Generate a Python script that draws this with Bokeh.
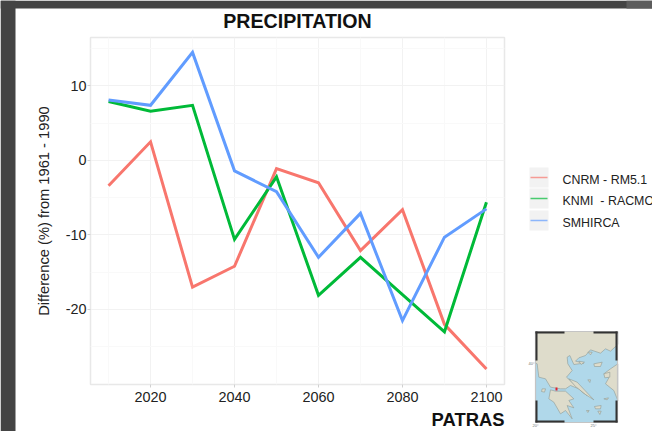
from bokeh.plotting import figure
from bokeh.models import Range1d, FixedTicker, Title
from bokeh.core.properties import value
from bokeh.embed import file_html
from bokeh.resources import INLINE

years = [2010, 2020, 2030, 2040, 2050, 2060, 2070, 2080, 2090, 2100]
cnrm = [-3.4, 2.5, -17.0, -14.2, -1.1, -3.0, -12.1, -6.6, -22.0, -28.0]
knmi = [7.9, 6.6, 7.4, -10.6, -2.2, -18.1, -13.0, -18.0, -23.0, -5.6]
smhi = [8.1, 7.4, 14.5, -1.4, -4.2, -13.0, -7.1, -21.5, -10.3, -6.5]
names = ["CNRM - RM5.1", "KNMI\u00a0 - RACMO", "SMHIRCA"]
colors = ["#F8766D", "#00BA38", "#619CFF"]
x_ticks = [2020, 2040, 2060, 2080, 2100]
x_minor = [2010, 2030, 2050, 2070, 2090]
y_ticks = [-20, -10, 0, 10]
y_labels = {-20: "-20", -10: "-10", 0: "0", 10: "10"}
y_minor = [-25, -15, -5, 5, 15]

W, H = 652, 431
p = figure(width=W, height=H, output_backend="svg", toolbar_location=None,
           x_range=Range1d(2005.7, 2104.3), y_range=Range1d(-30.07, 16.5),
           min_border_left=90, min_border_right=148, min_border_top=37, min_border_bottom=47,
           margin=(0, 0, 0, 0), background_fill_color="white", border_fill_color="white")
p.title = Title(text="PRECIPITATION", align="center", text_font="Liberation Sans", text_font_size="19.6px",
                text_font_style="bold", text_color="#111111", standoff=12)
p.outline_line_color = "#e8e8e8"
p.outline_line_width = 1.5

p.xaxis.ticker = FixedTicker(ticks=x_ticks, minor_ticks=x_minor)
p.yaxis.ticker = FixedTicker(ticks=y_ticks, minor_ticks=y_minor)
p.yaxis.major_label_overrides = y_labels
for ax in (p.xaxis[0], p.yaxis[0]):
    ax.axis_line_color = None
    ax.major_tick_in = 0
    ax.major_tick_out = 3
    ax.minor_tick_in = 0
    ax.minor_tick_out = 0
    ax.major_tick_line_color = "#d0d0d0"
    ax.major_label_text_font = "Liberation Sans"
    ax.major_label_text_font_size = "14.4px"
    ax.major_label_text_color = "#222222"
p.xaxis.major_label_standoff = 4
p.yaxis.major_label_standoff = 1
p.yaxis.major_label_orientation = "horizontal"
p.yaxis.axis_label = "Difference (%) from 1961 - 1990"
p.yaxis.axis_label_text_font = "Liberation Sans"
p.yaxis.axis_label_text_font_style = "normal"
p.yaxis.axis_label_text_font_size = "14.7px"
p.yaxis.axis_label_text_color = "#222222"
p.yaxis.axis_label_standoff = 11

for g in (p.xgrid[0], p.ygrid[0]):
    g.grid_line_color = "#f2f2f2"
    g.grid_line_width = 1
    g.minor_grid_line_color = "#f9f9f9"
    g.minor_grid_line_width = 1

for ys, c in zip((cnrm, knmi, smhi), colors):
    p.line(years, ys, line_color=c, line_width=3, line_join="miter")

# transparent overlay in page pixels: slide frame, legend, place name, locator map
o = figure(width=W, height=H, output_backend="svg", toolbar_location=None,
           x_range=Range1d(0, W), y_range=Range1d(H, 0),
           x_axis_location=None, y_axis_location=None,
           min_border=0, margin=(0, 0, 0, 0), outline_line_color=None,
           background_fill_alpha=0, border_fill_alpha=0,
           styles={"position": "absolute", "left": "0px", "top": "0px"})
o.grid.visible = False

def box(l, r, t, b, fill, alpha=1.0, line=None, lw=1):
    o.quad(left=[l], right=[r], top=[t], bottom=[b], fill_color=fill, fill_alpha=alpha,
           line_color=line, line_width=lw)

DARK = "#444444"
box(0, 15, 0, H, DARK)
box(0, W, 0, 8, DARK)
box(626, W, 0, 8, "#5c5c5c")

for t, b, c, n in zip((167, 188, 210), (187, 208, 230), colors, names):
    box(529, 548, t, b, "#f2f2f2")
    m = (t + b) / 2
    o.line([530, 547], [m, m], line_color=c, line_width=1.6, line_alpha=0.7)
    o.text([562], [m + 2], text=[n], text_baseline="middle", text_font=value("Liberation Sans"),
           text_font_size="12.4px", text_color="#222222")

o.text([504], [419], text=["PATRAS"], text_align="right", text_baseline="middle",
       text_font=value("Liberation Sans"), text_font_size="18.4px", text_font_style="bold",
       text_color="#111111")

ox, oy, sc = 510, 320, 1 / 3
main_land = [(75,33),(322,33),(322,72),(300,92),(285,85),(270,98),(240,88),(225,105),(205,112),(195,122),(220,128),
             (190,132),(178,105),(170,110),(172,130),(185,150),(168,170),(195,195),(215,215),(230,225),(205,205),
             (180,195),(165,205),(150,205),(120,200),(105,175),(85,170),(80,130),(75,128)]
peloponnese = [(120,208),(135,212),(165,212),(190,235),(175,240),(190,262),(170,255),(185,295),(165,270),(150,280),(130,245),(115,235)]
turkey = [(322,130),(300,145),(280,160),(295,172),(285,190),(310,210),(322,240)]
euboea = [(175,175),(200,185),(250,238),(225,222),(195,198)]
islands = [[(250,130),(275,125),(270,138),(252,138)], [(280,160),(298,155),(298,170),(283,172)], [(252,258),(272,255),(270,265),(255,265)],
           [(205,122),(222,125),(212,132)], [(232,95),(245,95),(240,103)], [(95,205),(105,205),(102,215),(93,213)],
           [(228,270),(236,270),(232,276)], [(280,235),(294,232),(290,238)], [(262,272),(272,272),(268,282)], [(232,178),(240,178),(238,186)]]

box(535, 617, 331, 422, "#b0d8ea")
for s in [main_land, peloponnese, turkey, euboea] + islands:
    o.patch([ox + a * sc for a, _ in s], [oy + b * sc for _, b in s], fill_color="#dedccb",
            line_color="#8f9a95", line_width=0.6)
box(555, 557, 387, 390, "#e0202a")
box(535, 617, 331, 422, "#000000", alpha=0, line="#c4c4c4", lw=1.2)
for l, r, t, b in [(535, 564, 331, 333), (593, 617, 331, 333), (535, 564, 420, 422), (593, 617, 420, 422),
                   (535, 537, 331, 360), (535, 537, 400, 422), (615, 617, 331, 360), (615, 617, 400, 422)]:
    box(l, r, t, b, "#333333")
for x, y, t in [(531, 363, "40°"), (535, 425, "20°"), (593, 425, "25°")]:
    o.text([x], [y], text=[t], text_align="center", text_baseline="middle", text_font=value("Liberation Sans"),
           text_font_size="4px", text_color="#777777")

open("out.html", "w").write(file_html([p, o], INLINE))
